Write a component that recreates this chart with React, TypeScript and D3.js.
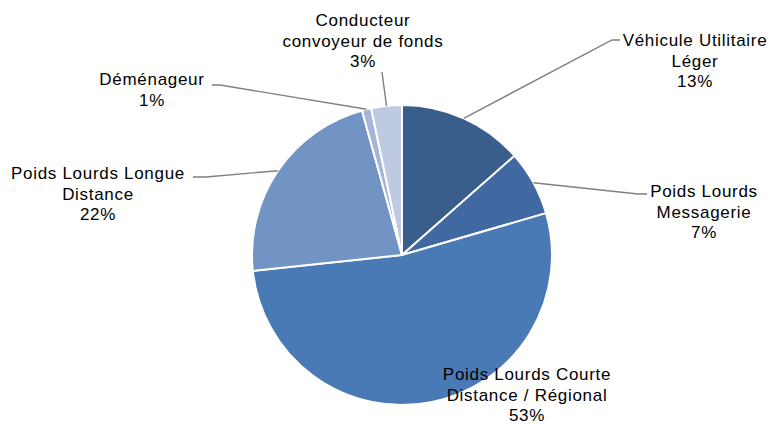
import * as d3 from "d3";
import React, {useEffect, useRef} from "react";

// categories, clockwise from 12 o'clock
const categories = [
  ["Véhicule Utilitaire", "Léger"],
  ["Poids Lourds", "Messagerie"],
  ["Poids Lourds Courte", "Distance / Régional"],
  ["Poids Lourds Longue", "Distance"],
  ["Déménageur"],
  ["Conducteur", "convoyeur de fonds"],
];
const values = [13.5, 7.0, 52.8, 22.4, 1.0, 3.3];
const percentLabels = ["13%", "7%", "53%", "22%", "1%", "3%"];
const colors = ["#3a5e8b", "#3f69a0", "#4a7ab5", "#7294c5", "#a3b6d8", "#bdcae2"];

// label placement (center x, center y of first line) and leader elbows
const labelLayout: {x: number; y: number; elbows: [number, number][]}[] = [
  {x: 695, y: 40, elbows: [[612, 40], [620, 40]]},
  {x: 704, y: 191, elbows: [[638, 194], [647, 194]]},
  {x: 527, y: 374, elbows: []},
  {x: 98, y: 173, elbows: [[206, 177], [193, 177]]},
  {x: 152, y: 79, elbows: [[220, 85], [212, 85]]},
  {x: 363, y: 20, elbows: [[382, 72]]},
];

const App: React.FC = () => {
  const ref = useRef<SVGSVGElement | null>(null);

  useEffect(() => {
    const width = 769;
    const height = 424;
    const cx = 402;
    const cy = 255;
    const radius = 150;
    const lineHeight = 20.6;

    const svg = d3.select(ref.current);
    svg.selectAll('*').remove();
    svg.attr('width', width).attr('height', height);

    const pie = d3.pie<number>().sort(null).value((d) => d)(values);
    const arc = d3.arc<d3.PieArcDatum<number>>().innerRadius(0).outerRadius(radius);
    const edge = d3.arc<d3.PieArcDatum<number>>().innerRadius(radius).outerRadius(radius);

    const g = svg.append('g').attr('transform', `translate(${cx},${cy})`);

    g.selectAll('path')
      .data(pie)
      .enter()
      .append('path')
      .attr('d', arc)
      .attr('fill', (_, i) => colors[i])
      .attr('stroke', '#fff')
      .attr('stroke-width', 2)
      .attr('stroke-linejoin', 'round');

    // leader lines
    const line = d3.line();
    pie.forEach((d, i) => {
      const lay = labelLayout[i];
      if (!lay.elbows.length) return;
      const [ex, ey] = edge.centroid(d);
      const pts: [number, number][] = [[cx + ex, cy + ey], ...lay.elbows];
      svg.append('path')
        .attr('d', line(pts))
        .attr('fill', 'none')
        .attr('stroke', '#808080')
        .attr('stroke-width', 1.4);
    });

    // labels
    categories.forEach((cat, i) => {
      const lay = labelLayout[i];
      const text = svg.append('text')
        .attr('text-anchor', 'middle')
        .attr('font-family', '"Liberation Sans", Arial, sans-serif')
        .attr('font-size', 17)
        .attr('letter-spacing', 0.7)
        .attr('fill', '#000');
      [...cat, percentLabels[i]].forEach((s, j) => {
        text.append('tspan')
          .attr('x', lay.x)
          .attr('y', lay.y + j * lineHeight)
          .attr('dy', '0.35em')
          .text(s);
      });
    });

    return () => {
      svg.selectAll('*').remove();
    };
  }, []);

  return <svg ref={ref} style={{position: 'absolute', left: 0, top: 0, background: '#fff'}}/>;
};

export default App;
